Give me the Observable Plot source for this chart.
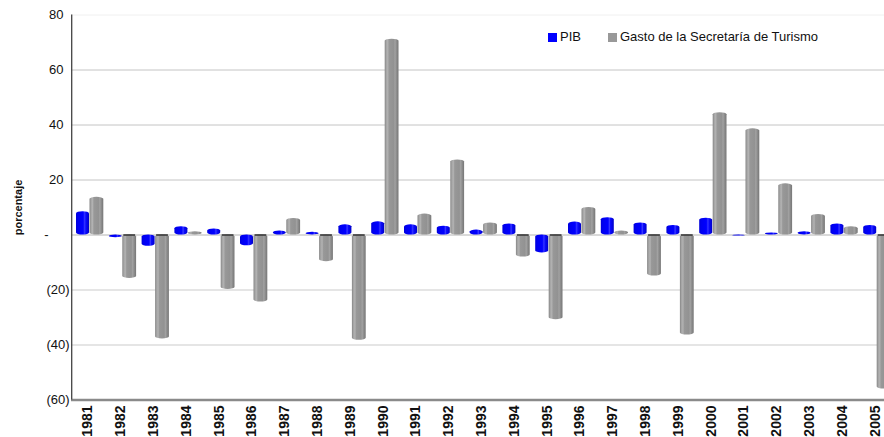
<!DOCTYPE html>
<html><head><meta charset="utf-8">
<script src="https://cdn.jsdelivr.net/npm/d3@7"></script>
<script src="https://cdn.jsdelivr.net/npm/@observablehq/plot@0.6"></script>
<style>
html,body{margin:0;padding:0;background:#fff;overflow:hidden;}
#wrap{position:relative;width:884px;height:437px;font-family:"Liberation Sans",Arial,sans-serif;}
#legend{position:absolute;top:29px;left:548px;font-size:13px;color:#111;white-space:nowrap;line-height:15px;}
#legend span.item{display:inline-block;margin-right:27px;}
#legend i{display:inline-block;width:9px;height:9px;margin-right:3px;vertical-align:-0.5px;}
</style></head><body><div id="wrap"><div id="legend"></div></div>
<script>
const years = ["1981","1982","1983","1984","1985","1986","1987","1988","1989","1990","1991","1992","1993","1994","1995","1996","1997","1998","1999","2000","2001","2002","2003","2004","2005"];
const pib = [8.5, -1.0, -4.1, 3.0, 2.2, -3.9, 1.5, 1.0, 3.7, 4.8, 3.7, 3.2, 1.8, 4.0, -6.5, 4.7, 6.3, 4.4, 3.5, 6.1, -0.4, 0.7, 1.2, 4.0, 3.5];
const gasto = [13.7, -15.8, -37.8, 1.2, -19.8, -24.4, 6.0, -9.7, -38.3, 71.2, 7.6, 27.3, 4.4, -8.0, -30.8, 10.0, 1.5, -14.9, -36.4, 44.5, 38.6, 18.6, 7.5, 3.0, -56.0];
const seriesNames = ["PIB", "Gasto de la Secretaría de Turismo"];
const seriesColors = ["#0000ff", "#999999"];
const yTicks = [80, 60, 40, 20, 0, -20, -40, -60];

const rows = years.map((y, i) => ({year: y, pib: pib[i], gasto: gasto[i]}));
const fmt = d => d === 0 ? "-" : d < 0 ? `(${-d})` : `${d}`;
const font = "Liberation Sans, Arial, sans-serif";

const chart = Plot.plot({
  width: 884, height: 437,
  marginLeft: 71, marginTop: 14, marginBottom: 37, marginRight: 0,
  style: {fontFamily: font, background: "transparent", color: "#111"},
  x: {type: "band", domain: years, range: [71, 891], padding: 0, round: false},
  y: {domain: [-60, 80], range: [399.5, 14.5]},
  marks: [
    Plot.ruleY(yTicks.filter(d => d > 0 && d < 80), {stroke: "#c4c4c4"}),
    Plot.ruleY(yTicks.filter(d => d === 80), {stroke: "#f0f0f0"}),
    Plot.ruleY(yTicks.filter(d => d < 0 && d > -60), {stroke: "#dcdcdc", strokeWidth: 1.6}),
    Plot.ruleY(yTicks.filter(d => d === 0), {stroke: "#b4b4b4"}),
    Plot.barY(rows, {x: "year", y: "pib", fill: "url(#gradPib)", insetLeft: 5, insetRight: 14.8, rx: 6.5, ry: 2}),
    Plot.barY(rows, {x: "year", y: "gasto", fill: "url(#gradGasto)", insetLeft: 18.5, insetRight: 0.5, rx: 7, ry: 2}),
    Plot.tickY(rows.filter(d => d.gasto < 0), {x: "year", y: () => 0, stroke: "#3a3a3a", strokeWidth: 1.6, insetLeft: 19.5, insetRight: 1.5}),
    Plot.ruleY(yTicks.filter(d => d === -60), {stroke: "#8a8a8a", strokeWidth: 2.6}),
    Plot.ruleX(years.slice(0, 1), {x: d => d, y1: yTicks[yTicks.length - 1], y2: yTicks[0], dx: -16.2, stroke: "#444", strokeWidth: 1.3}),
    Plot.axisX({tickSize: 0, tickPadding: 5, tickRotate: -90, fontSize: 14, fontWeight: "bold", label: null}),
    Plot.axisY({ticks: yTicks.filter(d => d > 0), tickSize: 0, tickPadding: 2, dx: -6, tickFormat: fmt, fontSize: 13, label: null}),
    Plot.axisY({ticks: yTicks.filter(d => d < 0), tickSize: 0, tickPadding: 2, tickFormat: fmt, fontSize: 13, label: null}),
    Plot.axisY({ticks: yTicks.filter(d => d === 0), tickSize: 0, tickPadding: 2, dx: -21, tickFormat: fmt, fontSize: 13, label: null}),
    Plot.text(["porcentaje"], {frameAnchor: "left", textAnchor: "middle", rotate: -90, dx: -53, fontWeight: "bold", fontSize: 11})
  ]
});

const svg = d3.select(chart);
const defs = svg.insert("defs", ":first-child");
function grad(id, stops) {
  const g = defs.append("linearGradient").attr("id", id).attr("x1", 0).attr("x2", 1).attr("y1", 0).attr("y2", 0);
  stops.forEach(([o, c]) => g.append("stop").attr("offset", o).attr("stop-color", c));
}
grad("gradPib", [[0, "#0000d8"], [0.15, "#0000f0"], [0.55, "#0000ff"], [0.68, "#3a3aff"], [0.75, "#0a0aff"], [1, "#0000c8"]]);
grad("gradGasto", [[0, "#858585"], [0.12, "#a6a6a6"], [0.22, "#b2b2b2"], [0.32, "#989898"], [0.65, "#929292"], [0.75, "#a2a2a2"], [0.85, "#8e8e8e"], [1, "#767676"]]);

document.getElementById("wrap").appendChild(chart);
const legend = document.getElementById("legend");
seriesNames.forEach((n, i) => {
  const s = document.createElement("span");
  s.className = "item";
  s.innerHTML = `<i style="background:${seriesColors[i]}"></i>${n}`;
  legend.appendChild(s);
});
chart.style.position = "absolute";
chart.style.left = "0";
chart.style.top = "0";
legend.style.zIndex = 2;
</script>
</body></html>
